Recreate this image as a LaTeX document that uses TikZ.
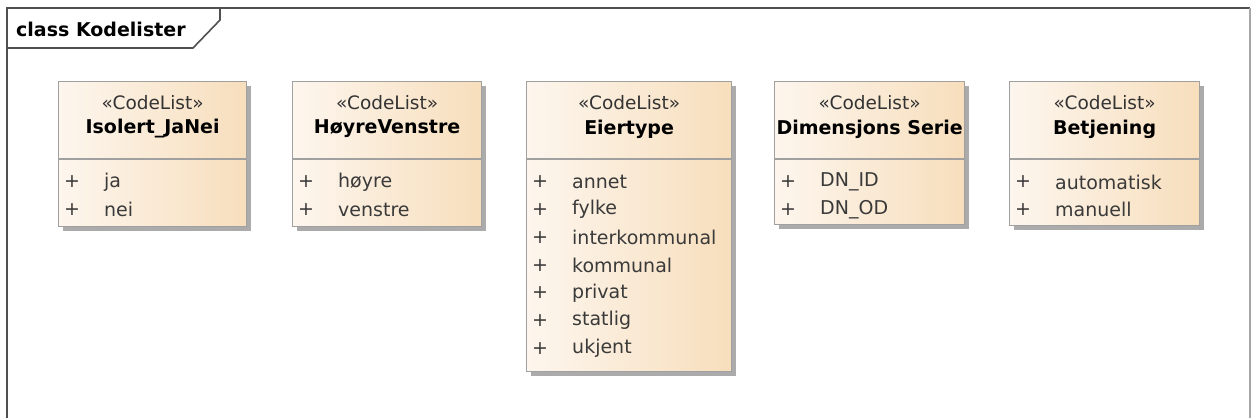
\documentclass[tikz,border=0pt]{standalone}
\usepackage{fontspec}
\setmainfont{DejaVu Sans}
\usetikzlibrary{shadows}
\definecolor{fillL}{HTML}{FDF6EE}
\definecolor{fillR}{HTML}{F7DEBC}
\definecolor{bord}{HTML}{A0A0A0}
\definecolor{shad}{HTML}{ABABAB}
\definecolor{frm}{HTML}{505050}
\definecolor{itemc}{HTML}{3A3A3A}
\tikzset{
  classbox/.style={draw=bord, line width=1.2pt, shading=axis, left color=fillL, right color=fillR,
    anchor=north west, inner sep=0pt, minimum height=145pt,
    drop shadow={shadow xshift=4pt, shadow yshift=-4pt, fill=shad, opacity=1}},
  stereo/.style={font=\fontsize{18.5}{21}\selectfont, text=black!80, inner sep=0pt},
  cname/.style={font=\fontsize{19}{22}\selectfont\bfseries, text=black, inner sep=0pt},
  plus/.style={font=\fontsize{19}{21}\selectfont, text=itemc, inner sep=0pt},
  item/.style={font=\fontsize{19}{21}\selectfont, text=itemc, inner sep=0pt, anchor=west},
  sepline/.style={draw=bord, line width=1.2pt},
  frameline/.style={draw=frm, line width=1.6pt},
  framer/.style={draw=gray!70, line width=1.6pt}
}
\newcommand{\classitems}[2]{%
  \foreach \t [count=\i from 0] in {#2} {
    \node[plus] at ([xshift=14pt, yshift={-101pt-27.7pt*\i}]#1.north west) {+};
    \node[item] at ([xshift=46pt, yshift={-101pt-27.7pt*\i}]#1.north west) {\t};
  }%
}
\begin{document}
\begin{tikzpicture}[x=1pt,y=-1pt]
\useasboundingbox (0,0) rectangle (1251,418);
\fill[white] (0,0) rectangle (1251,418);
% frame
\draw[frameline] (7,418) -- (7,8) -- (1250,8);
\draw[framer] (1250,8) -- (1250,418);
\draw[frameline] (7,48) -- (193,48) -- (220,20) -- (220,8);
\node[font=\fontsize{19}{21}\selectfont\bfseries, anchor=west, inner sep=0pt] (title) at (16,29) {class Kodelister};
% classes
\node[classbox, minimum width=188pt] (c1) at (58,81) {};
\node[classbox, minimum width=189pt] (c2) at (292,81) {};
\node[classbox, minimum width=205pt, minimum height=290pt] (c3) at (526,81) {};
\node[classbox, minimum width=190pt, minimum height=143pt] (c4) at (774,81) {};
\node[classbox, minimum width=190pt, minimum height=144pt] (c5) at (1009,81) {};
\foreach \c/\n in {c1/Isolert\_JaNei, c2/HøyreVenstre, c3/Eiertype, c4/Dimensjons Serie, c5/Betjening} {
  \node[stereo] at ([yshift=-22pt]\c.north) {«CodeList»};
  \node[cname] at ([yshift=-48pt]\c.north) {\n};
  \draw[sepline] ([yshift=-78pt]\c.north west) -- ([yshift=-78pt]\c.north east);
}
\classitems{c1}{ja,nei}
\classitems{c2}{høyre,venstre}
\classitems{c3}{annet,fylke,interkommunal,kommunal,privat,statlig,ukjent}
\classitems{c4}{DN\_ID,DN\_OD}
\classitems{c5}{automatisk,manuell}
\end{tikzpicture}
\end{document}
